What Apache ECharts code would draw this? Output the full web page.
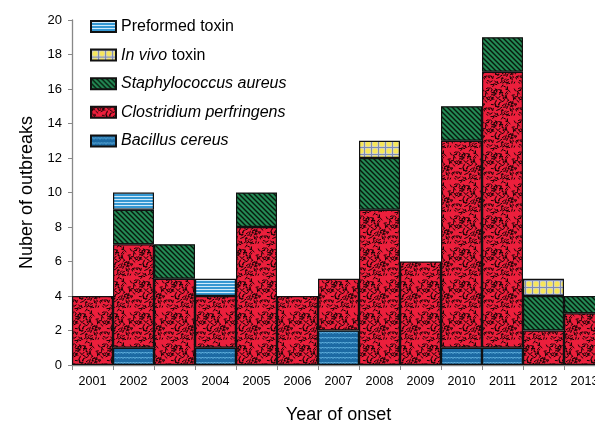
<!DOCTYPE html>
<html><head><meta charset="utf-8">
<script src="https://cdn.jsdelivr.net/npm/echarts@6/dist/echarts.min.js"></script>
<style>html,body{margin:0;padding:0;background:#fff;overflow:hidden;width:595px;height:426px}#c{width:606px;height:426px}</style>
</head><body><div id="c"></div>
<script>
const years = ['2001','2002','2003','2004','2005','2006','2007','2008','2009','2010','2011','2012','2013'];
const bacillusCereus      = [0,1,0,1,0,0,2,0,0,1,1,0,0];
const clostridiumPerfr    = [4,6,5,3,8,4,3,9,6,12,16,2,3];
const staphAureus         = [0,2,2,0,2,0,0,3,0,2,2,2,1];
const inVivoToxin         = [0,0,0,0,0,0,0,1,0,0,0,1,0];
const preformedToxin      = [0,1,0,1,0,0,0,0,0,0,0,0,0];
const yTicks = [0,2,4,6,8,10,12,14,16,18,20];

function mk(w,h,draw){const c=document.createElement('canvas');c.width=w;c.height=h;const g=c.getContext('2d');draw(g,w,h);return c;}
// textures
const patPreformed = mk(8,3,(g,w,h)=>{g.fillStyle='#3598d2';g.fillRect(0,0,w,h);g.fillStyle='#cfeafa';g.fillRect(0,1,w,1);});
const patInVivo = mk(7,7,(g,w,h)=>{g.fillStyle='#c9cde0';g.fillRect(0,0,w,h);g.fillStyle='#7f8cb0';g.fillRect(0,0,w,1);g.fillRect(0,0,1,h);g.fillStyle='#f6e65c';g.beginPath();g.arc(4,4,2.7,0,Math.PI*2);g.fill();});
const patStaph = mk(5,5,(g,w,h)=>{g.fillStyle='#248a55';g.fillRect(0,0,w,h);g.strokeStyle='#061a0c';g.lineWidth=1.4;for(let k=-1;k<=1;k++){g.beginPath();g.moveTo(k*5-1,-1);g.lineTo(k*5+6,6);g.stroke();}});
const patClost = mk(32,32,(g,w,h)=>{g.fillStyle='#ec1f3c';g.fillRect(0,0,w,h);g.strokeStyle='#140404';g.lineWidth=1;let s=98765;const r=()=>{s=(s*1103515245+12345)&0x7fffffff;return s/0x7fffffff;};
  for(let i=0;i<120;i++){const x=r()*w,y=r()*h,a=r()*Math.PI,l=2+r()*1.8;for(const dx of [-w,0,w])for(const dy of [-h,0,h]){g.beginPath();g.moveTo(x+dx,y+dy);g.lineTo(x+dx+Math.cos(a)*l,y+dy+Math.sin(a)*l);g.stroke();}}});
const patBac = mk(6,5,(g,w,h)=>{g.fillStyle='#1c6aa3';g.fillRect(0,0,w,h);g.strokeStyle='#72c2ec';g.lineWidth=1;g.beginPath();g.moveTo(0,3.5);g.lineTo(1.5,2);g.lineTo(3,3.5);g.lineTo(4.5,2);g.lineTo(6,3.5);g.stroke();});
const P = c=>({image:c,repeat:'repeat'});

const nz = a=>a.map(v=>v===0?null:v);
function ser(name,data,pat){return {name,type:'bar',stack:'t',data:nz(data),barCategoryGap:0,
  itemStyle:{color:P(pat),borderColor:'#111',borderWidth:1.2},emphasis:{disabled:true}};}

const FF='Liberation Sans';
const chart = echarts.init(document.getElementById('c'));
chart.setOption({
  animation:false,
  grid:{left:72,right:1,top:20,bottom:61,containLabel:false,outerBoundsMode:'none'},
  legend:{orient:'vertical',left:85,top:13.5,itemWidth:25,itemHeight:11,itemGap:12.6,icon:'rect',
    data:['Preformed toxin','In vivo toxin','Staphylococcus aureus','Clostridium perfringens','Bacillus cereus'],
    textStyle:{fontFamily:FF,fontSize:16,color:'#000',
      rich:{i:{fontStyle:'italic',fontFamily:FF,fontSize:16,color:'#000'}}},
    formatter:n=>{if(n==='Preformed toxin')return n;if(n==='In vivo toxin')return '{i|In vivo} toxin';return '{i|'+n+'}';}},
  xAxis:{type:'category',data:years,boundaryGap:true,
    axisLine:{lineStyle:{color:'#888',width:1.3}},axisTick:{show:true,length:5,lineStyle:{color:'#888'},alignWithLabel:false},
    axisLabel:{fontFamily:FF,fontSize:12.5,color:'#000',margin:10,interval:0},
    name:'Year of onset',nameLocation:'middle',nameGap:41,nameTextStyle:{fontFamily:FF,fontSize:18,color:'#000'}},
  yAxis:{type:'value',min:0,max:20,interval:2,
    axisLine:{show:true,lineStyle:{color:'#888',width:1.3}},axisTick:{show:true,length:4,lineStyle:{color:'#888'}},splitLine:{show:false},
    axisLabel:{fontFamily:FF,fontSize:13,color:'#000',margin:10,formatter:v=>yTicks.includes(v)?String(v):''},
    name:'Nuber of outbreaks',nameLocation:'middle',nameGap:36,nameTextStyle:{fontFamily:FF,fontSize:18,color:'#000'}},
  series:[
    ser('Bacillus cereus',bacillusCereus,patBac),
    ser('Clostridium perfringens',clostridiumPerfr,patClost),
    ser('Staphylococcus aureus',staphAureus,patStaph),
    ser('In vivo toxin',inVivoToxin,patInVivo),
    ser('Preformed toxin',preformedToxin,patPreformed)
  ]
});
</script></body></html>
